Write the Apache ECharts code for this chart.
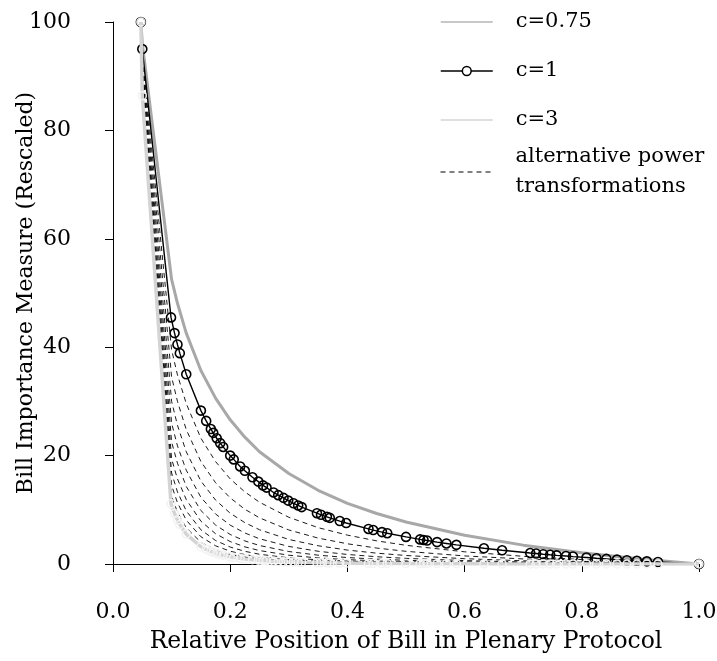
<!DOCTYPE html>
<html><head><meta charset="utf-8">
<script src="https://cdn.jsdelivr.net/npm/echarts@6/dist/echarts.min.js"></script>
<style>html,body{margin:0;padding:0;background:#fff}#c{width:717px;height:661px}</style>
</head><body><div id="c"></div>
<script>
// Relative positions of bills (c=1 observation points)
const positions = [0.0476,0.05,0.099,0.105,0.11,0.114,0.125,0.15,0.159,0.167,0.171,0.177,0.183,0.188,0.2,0.206,0.217,0.225,0.238,0.248,0.256,0.262,0.274,0.282,0.291,0.299,0.308,0.316,0.322,0.348,0.355,0.365,0.37,0.387,0.398,0.436,0.444,0.459,0.468,0.5,0.524,0.53,0.536,0.553,0.569,0.586,0.633,0.664,0.712,0.722,0.734,0.746,0.757,0.773,0.785,0.808,0.825,0.842,0.86,0.877,0.894,0.911,0.93,1.0];
const importanceC1 = [100,95,45.5,42.6,40.5,38.9,35.0,28.3,26.4,24.9,24.2,23.2,22.3,21.6,20.0,19.3,18.0,17.2,16.0,15.2,14.5,14.1,13.2,12.7,12.2,11.7,11.2,10.8,10.5,9.37,9.08,8.70,8.51,7.92,7.56,6.47,6.26,5.89,5.68,5.0,4.54,4.43,4.33,4.04,3.79,3.53,2.90,2.53,2.02,1.93,1.81,1.70,1.60,1.47,1.37,1.19,1.06,0.94,0.81,0.70,0.59,0.49,0.38,0];
const importanceC3 = [100,86.4,11.1,9.32,8.10,7.28,5.52,3.19,2.68,2.31,2.15,1.94,1.75,1.61,1.34,1.22,1.05,0.94,0.79,0.70,0.63,0.59,0.51,0.47,0.43,0.39,0.36,0.33,0.31,0.25,0.23,0.21,0.20,0.18,0.16,0.12,0.11,0.10,0.09,0.08,0.06,0.06,0.06,0.05,0.05,0.04,0.03,0.02,0.02,0.02,0.02,0.01,0.01,0.01,0.01,0.01,0.01,0.01,0,0,0,0,0,0];
// Curve positions for c=0.75 and alternative transformations
const curveX = [0.0476,0.05,0.1,0.11,0.125,0.15,0.175,0.2,0.225,0.25,0.3,0.35,0.4,0.45,0.5,0.6,0.7,0.8,0.9,1.0];
const importanceC075 = [100,96.0,52.5,48.1,42.6,35.7,30.6,26.6,23.4,20.7,16.7,13.6,11.2,9.31,7.74,5.30,3.48,2.07,0.93,0];
const alt12 = [100,94.1,39.5,34.9,29.6,23.2,18.9,15.7,13.3,11.4,8.62,6.71,5.33,4.27,3.45,2.25,1.42,0.82,0.36,0];
const alt14 = [100,93.3,34.5,30.0,24.8,18.9,15.0,12.2,10.1,8.52,6.28,4.78,3.73,2.94,2.34,1.49,0.93,0.52,0.23,0];
const alt16 = [100,92.4,30.0,25.6,20.7,15.3,11.8,9.37,7.63,6.32,4.53,3.37,2.57,2.00,1.57,0.98,0.59,0.33,0.14,0];
const alt18 = [100,91.5,26.0,21.8,17.3,12.3,9.23,7.17,5.72,4.66,3.24,2.35,1.76,1.34,1.04,0.63,0.38,0.21,0.09,0];
const alt20 = [100,90.7,22.5,18.6,14.3,9.87,7.19,5.45,4.26,3.41,2.30,1.63,1.19,0.90,0.68,0.40,0.24,0.13,0.05,0];
const alt22 = [100,89.8,19.4,15.7,11.9,7.90,5.59,4.14,3.16,2.48,1.62,1.12,0.80,0.59,0.44,0.26,0.15,0.08,0.03,0];
const alt24 = [100,88.9,16.8,13.3,9.80,6.31,4.34,3.13,2.34,1.80,1.14,0.77,0.54,0.39,0.29,0.16,0.09,0.05,0.02,0];
const alt26 = [100,88.1,14.5,11.3,8.10,5.03,3.36,2.36,1.73,1.31,0.80,0.52,0.36,0.25,0.18,0.10,0.06,0.03,0.01,0];
const alt28 = [100,87.2,12.5,9.57,6.69,4.00,2.59,1.78,1.27,0.94,0.56,0.36,0.24,0.17,0.12,0.06,0.03,0.02,0.01,0];
const altCurves = [alt12,alt14,alt16,alt18,alt20,alt22,alt24,alt26,alt28];
const xTicks = ['0.0','0.2','0.4','0.6','0.8','1.0'];
const yTicks = ['0','20','40','60','80','100'];
const altName = 'alternative power transformations';

const FONT = 'DejaVu Serif';
const pairs = (xs, ys) => xs.map((x, i) => [x, ys[i]]);

const series = [];
altCurves.forEach(ys => series.push({
  name: altName, type: 'line', data: pairs(curveX, ys), symbol: 'none', z: 2,
  lineStyle: {color: '#000', width: 0.9, type: [5, 4]}, itemStyle: {color: '#000'}
}));
series.push({
  name: 'c=0.75', type: 'line', data: pairs(curveX, importanceC075), symbol: 'none', z: 3,
  lineStyle: {color: '#a8a8a8', width: 3}, itemStyle: {color: '#a8a8a8'}
});
series.push({
  name: 'c=1', type: 'line', data: pairs(positions, importanceC1), symbol: 'circle', symbolSize: 9, z: 4,
  lineStyle: {color: '#000', width: 1.4},
  itemStyle: {color: 'rgba(255,255,255,0)', borderColor: '#000', borderWidth: 1.6}
});
series.push({
  name: 'c=3', type: 'line', data: pairs(positions, importanceC3), symbol: 'circle', symbolSize: 8, z: 5,
  lineStyle: {color: '#d4d4d4', width: 3.5},
  itemStyle: {color: 'rgba(255,255,255,0)', borderColor: '#f2f2f2', borderWidth: 1.5}
});

const noSymbol = {color: 'rgba(0,0,0,0)', borderColor: 'rgba(0,0,0,0)', borderWidth: 0, opacity: 0};

const chart = echarts.init(document.getElementById('c'), null, {renderer: 'canvas'});
chart.setOption({
  animation: false,
  backgroundColor: '#fff',
  textStyle: {fontFamily: FONT, color: '#000'},
  grid: {left: 113, right: 18, top: 22, bottom: 97, containLabel: false, outerBoundsMode: 'none'},
  xAxis: {
    type: 'value', min: 0, max: 1, interval: 0.2, offset: 21,
    name: 'Relative Position of Bill in Plenary Protocol', nameLocation: 'middle', nameGap: 45,
    nameMoveOverlap: false,
    nameTextStyle: {fontFamily: FONT, fontSize: 23.5, color: '#000'},
    axisLine: {show: true, lineStyle: {color: '#000', width: 1}},
    axisTick: {show: true, length: 8, lineStyle: {color: '#000'}},
    axisLabel: {margin: 16, fontFamily: FONT, fontSize: 22, color: '#000',
      formatter: v => xTicks[Math.round(v / 0.2)]},
    splitLine: {show: false}
  },
  yAxis: {
    type: 'value', min: 0, max: 100, interval: 20, offset: 24,
    name: 'Bill Importance Measure (Rescaled)', nameLocation: 'middle', nameGap: 52,
    nameMoveOverlap: false,
    nameTextStyle: {fontFamily: FONT, fontSize: 22, color: '#000'},
    axisLine: {show: true, lineStyle: {color: '#000', width: 1}},
    axisTick: {show: true, length: 8, lineStyle: {color: '#000'}},
    axisLabel: {margin: 18, fontFamily: FONT, fontSize: 22, color: '#000',
      formatter: v => yTicks[Math.round(v / 20)]},
    splitLine: {show: false}
  },
  legend: [{
    orient: 'vertical', left: 440, top: 7, padding: 0, itemGap: 19,
    itemWidth: 52, itemHeight: 11,
    textStyle: {fontFamily: FONT, fontSize: 21, color: '#000', lineHeight: 30, padding: [0, 0, 0, 18]},
    data: [
      {name: 'c=0.75', itemStyle: noSymbol, lineStyle: {color: '#b4b4b4', width: 1.5, opacity: 1}},
      {name: 'c=1', itemStyle: {color: '#fff', borderColor: '#000', borderWidth: 1.5}, lineStyle: {color: '#000', width: 1.5}},
      {name: 'c=3', itemStyle: noSymbol, lineStyle: {color: '#d4d4d4', width: 1.5, opacity: 1}}
    ]
  }, {
    orient: 'vertical', left: 440, top: 142, padding: 0,
    itemWidth: 52, itemHeight: 11,
    textStyle: {fontFamily: FONT, fontSize: 21, color: '#000', lineHeight: 30, padding: [0, 0, 0, 18]},
    formatter: () => 'alternative power\ntransformations',
    data: [{name: altName, itemStyle: noSymbol, lineStyle: {color: '#000', width: 1, type: [5, 4], opacity: 1}}]
  }],
  series: series
});
</script>
</body></html>
